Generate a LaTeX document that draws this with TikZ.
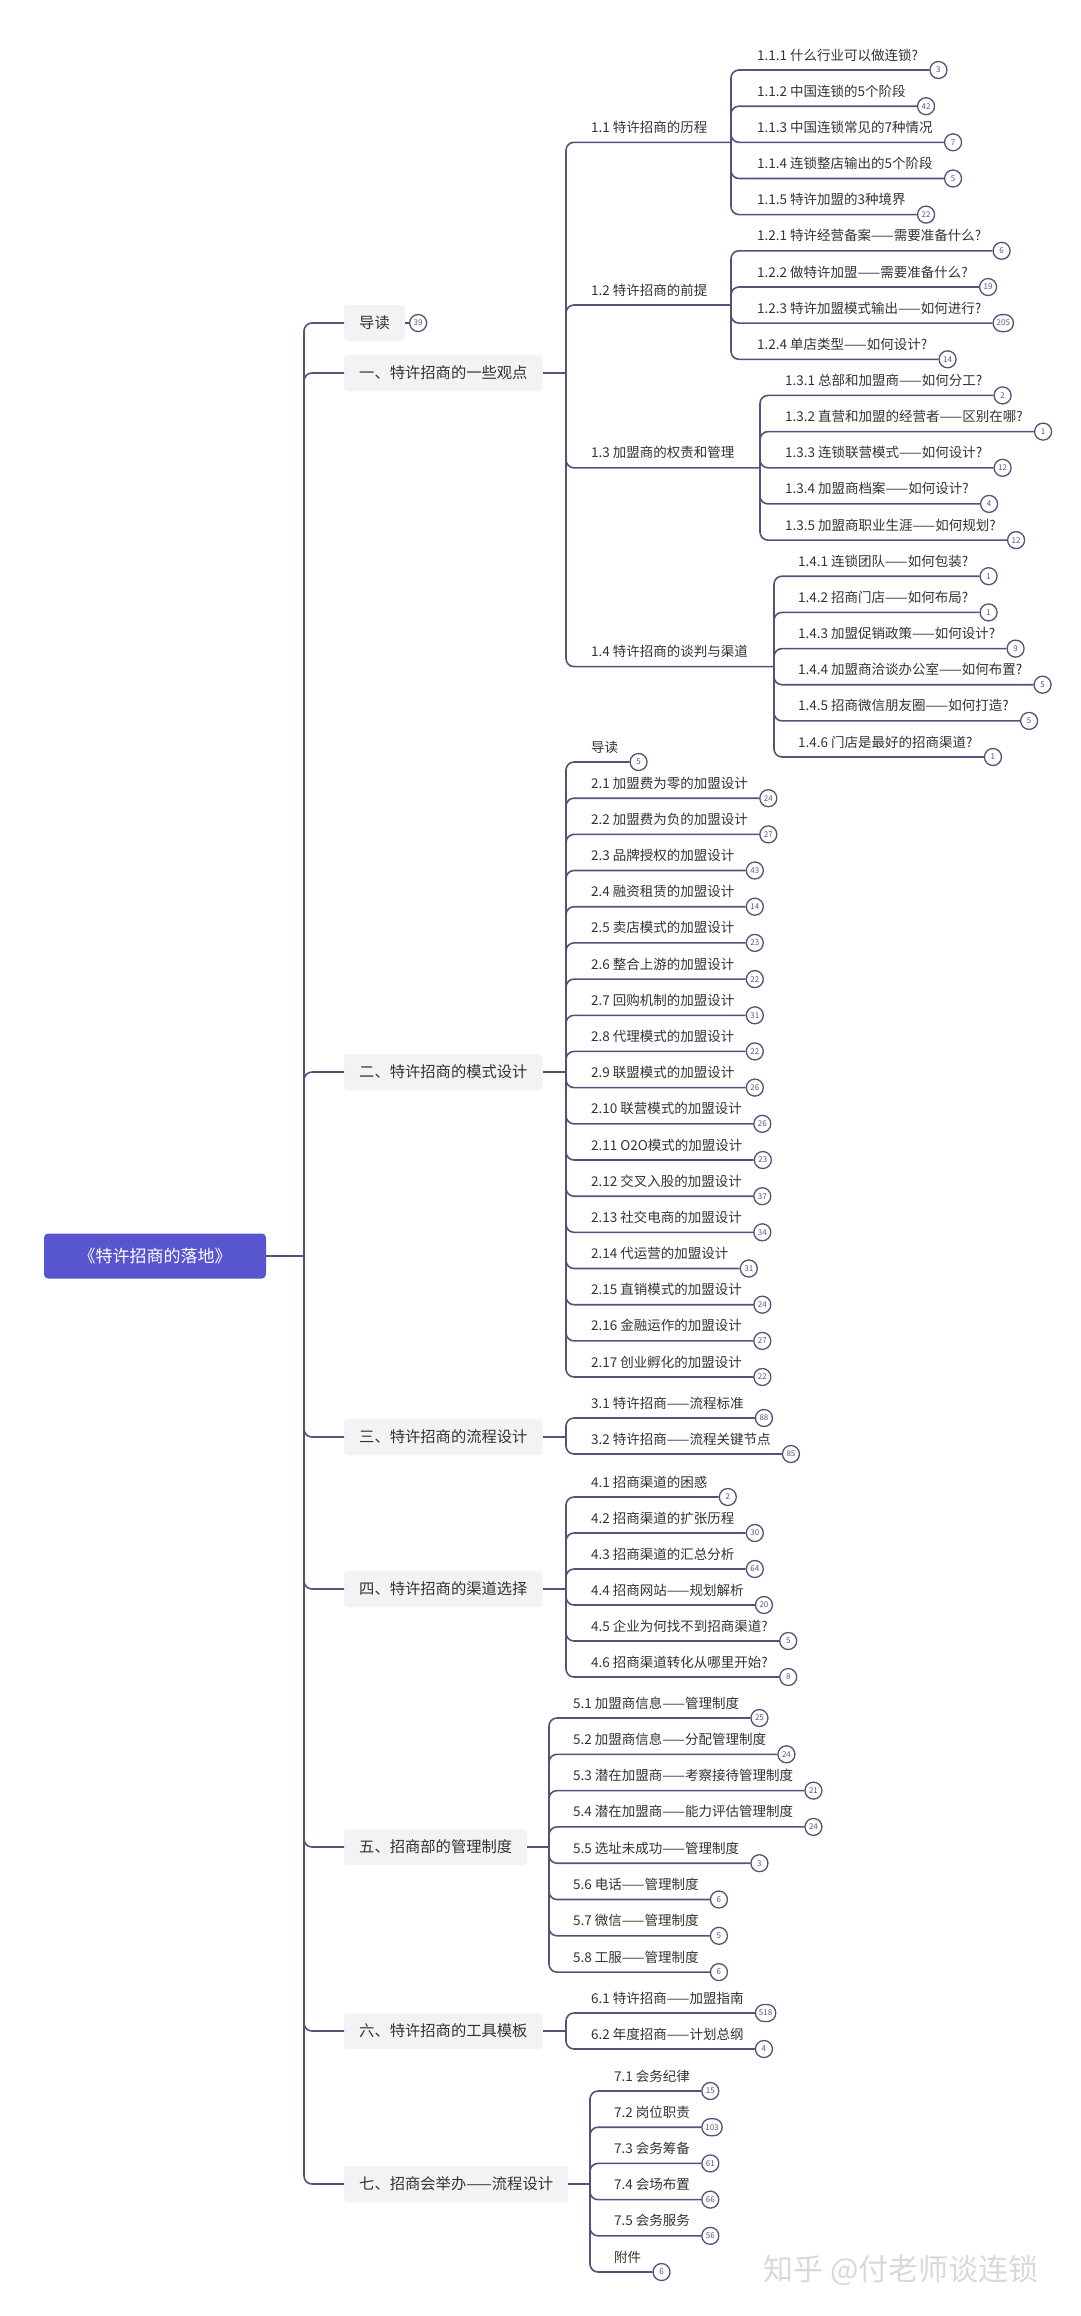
\documentclass[tikz,border=0pt]{standalone}
\usepackage{fontspec}
\newfontfamily\cjk{Noto Sans CJK SC}
\usetikzlibrary{shapes.misc}

\definecolor{linecol}{RGB}{82,82,122}
\definecolor{rootcol}{RGB}{88,86,206}
\definecolor{topiccol}{RGB}{243,243,245}
\definecolor{textcol}{RGB}{51,51,51}
\definecolor{badgecol}{RGB}{90,90,112}

% leaf: number, x, y of its line, text, count
\newcommand\leaf[5]{%
  \node[item] (a#1) at (#2,#3-10) {#4};
  \node[badge, anchor=west] (b#1) at ([shift={(11pt,-10pt)}]a#1.base east) {#5};
}

\begin{document}
\begin{tikzpicture}[x=1pt, y=-1pt,
  conn/.style={draw=linecol, line width=1.6pt, rounded corners=8pt},
  root/.style={fill=rootcol, text=white, rounded corners=4pt, minimum width=222pt, minimum height=45pt, font=\cjk\fontsize{17}{20}\selectfont},
  topic/.style={fill=topiccol, rounded corners=3pt, anchor=west, inner xsep=15pt, minimum height=36pt, text=textcol, font=\cjk\fontsize{15.3}{18}\selectfont},
  item/.style={anchor=base west, inner sep=0pt, text=textcol, font=\cjk\fontsize{13.5}{16}\selectfont},
  badge/.style={rounded rectangle, draw=linecol, line width=1.3pt, fill=white, minimum width=20pt, minimum height=17pt, inner xsep=3pt, inner ysep=0pt, text=badgecol, font=\cjk\fontsize{8}{9}\selectfont}
]
\useasboundingbox[fill=white] (0,0) rectangle (1080,2316);

\node[root] (root) at (155,1256) {《特许招商的落地》};
\coordinate (k0) at (304,1256);

\node[topic] (n0) at (344,323) {导读};
\node[topic] (n1) at (344,373) {一、特许招商的一些观点};
\node[topic] (n2) at (344,1072) {二、特许招商的模式设计};
\node[topic] (n3) at (344,1437) {三、特许招商的流程设计};
\node[topic] (n4) at (344,1589) {四、特许招商的渠道选择};
\node[topic] (n5) at (344,1847) {五、招商部的管理制度};
\node[topic] (n6) at (344,2031) {六、特许招商的工具模板};
\node[topic] (n7) at (344,2184) {七、招商会举办——流程设计};
\node[badge, anchor=west] (b0) at ([xshift=4pt]n0.east) {39};

\draw[conn] (root) -- (k0);
\foreach \i in {0,...,7} \draw[conn] (k0) |- (n\i.west);
\draw[conn] (n0) -- (b0);

% one
\coordinate (k1) at (566,373);
\node[item] (t11) at (591,132.3) {1.1 特许招商的历程};
\node[item] (t12) at (591,295.0) {1.2 特许招商的前提};
\node[item] (t13) at (591,457.8) {1.3 加盟商的权责和管理};
\node[item] (t14) at (591,656.6) {1.4 特许招商的谈判与渠道};
\coordinate (j11) at (731,142.3);
\coordinate (j12) at (731,305.0);
\coordinate (j13) at (760,467.8);
\coordinate (j14) at (774,666.6);

\leaf{111}{757}{70.0}{1.1.1 什么行业可以做连锁?}{3}
\leaf{112}{757}{106.2}{1.1.2 中国连锁的5个阶段}{42}
\leaf{113}{757}{142.3}{1.1.3 中国连锁常见的7种情况}{7}
\leaf{114}{757}{178.5}{1.1.4 连锁整店输出的5个阶段}{5}
\leaf{115}{757}{214.6}{1.1.5 特许加盟的3种境界}{22}
\leaf{121}{757}{250.8}{1.2.1 特许经营备案——需要准备什么?}{6}
\leaf{122}{757}{287.0}{1.2.2 做特许加盟——需要准备什么?}{19}
\leaf{123}{757}{323.1}{1.2.3 特许加盟模式输出——如何进行?}{205}
\leaf{124}{757}{359.3}{1.2.4 单店类型——如何设计?}{14}
\leaf{131}{785}{395.4}{1.3.1 总部和加盟商——如何分工?}{2}
\leaf{132}{785}{431.6}{1.3.2 直营和加盟的经营者——区别在哪?}{1}
\leaf{133}{785}{467.8}{1.3.3 连锁联营模式——如何设计?}{12}
\leaf{134}{785}{503.9}{1.3.4 加盟商档案——如何设计?}{4}
\leaf{135}{785}{540.1}{1.3.5 加盟商职业生涯——如何规划?}{12}
\leaf{141}{798}{576.2}{1.4.1 连锁团队——如何包装?}{1}
\leaf{142}{798}{612.4}{1.4.2 招商门店——如何布局?}{1}
\leaf{143}{798}{648.6}{1.4.3 加盟促销政策——如何设计?}{9}
\leaf{144}{798}{684.7}{1.4.4 加盟商洽谈办公室——如何布置?}{5}
\leaf{145}{798}{720.9}{1.4.5 招商微信朋友圈——如何打造?}{5}
\leaf{146}{798}{757.0}{1.4.6 门店是最好的招商渠道?}{1}

\draw[conn] (n1) -- (k1);
\foreach \j in {11,12,13,14} \draw[conn] (k1) |- (j\j);
\foreach \i in {111,...,115} \draw[conn] (j11) |- (b\i.west);
\foreach \i in {121,...,124} \draw[conn] (j12) |- (b\i.west);
\foreach \i in {131,...,135} \draw[conn] (j13) |- (b\i.west);
\foreach \i in {141,...,146} \draw[conn] (j14) |- (b\i.west);

% two
\coordinate (k2) at (566,1072);
\leaf{20}{591}{762.0}{导读}{5}
\leaf{21}{591}{798.2}{2.1 加盟费为零的加盟设计}{24}
\leaf{22}{591}{834.4}{2.2 加盟费为负的加盟设计}{27}
\leaf{23}{591}{870.5}{2.3 品牌授权的加盟设计}{43}
\leaf{24}{591}{906.7}{2.4 融资租赁的加盟设计}{14}
\leaf{25}{591}{942.9}{2.5 卖店模式的加盟设计}{23}
\leaf{26}{591}{979.1}{2.6 整合上游的加盟设计}{22}
\leaf{27}{591}{1015.3}{2.7 回购机制的加盟设计}{31}
\leaf{28}{591}{1051.4}{2.8 代理模式的加盟设计}{22}
\leaf{29}{591}{1087.6}{2.9 联盟模式的加盟设计}{26}
\leaf{210}{591}{1123.8}{2.10 联营模式的加盟设计}{26}
\leaf{211}{591}{1160.0}{2.11 O2O模式的加盟设计}{23}
\leaf{212}{591}{1196.2}{2.12 交叉入股的加盟设计}{37}
\leaf{213}{591}{1232.3}{2.13 社交电商的加盟设计}{34}
\leaf{214}{591}{1268.5}{2.14 代运营的加盟设计}{31}
\leaf{215}{591}{1304.7}{2.15 直销模式的加盟设计}{24}
\leaf{216}{591}{1340.9}{2.16 金融运作的加盟设计}{27}
\leaf{217}{591}{1377.0}{2.17 创业孵化的加盟设计}{22}

\draw[conn] (n2) -- (k2);
\foreach \i in {20,21,22,23,24,25,26,27,28,29,210,211,212,213,214,215,216,217}
  \draw[conn] (k2) |- (b\i.west);

% three
\coordinate (k3) at (566,1437);
\leaf{31}{591}{1418}{3.1 特许招商——流程标准}{88}
\leaf{32}{591}{1454}{3.2 特许招商——流程关键节点}{85}
\draw[conn] (n3) -- (k3);
\foreach \i in {31,32} \draw[conn] (k3) |- (b\i.west);

% four
\coordinate (k4) at (566,1589);
\leaf{41}{591}{1497}{4.1 招商渠道的困惑}{2}
\leaf{42}{591}{1533}{4.2 招商渠道的扩张历程}{30}
\leaf{43}{591}{1569}{4.3 招商渠道的汇总分析}{64}
\leaf{44}{591}{1605}{4.4 招商网站——规划解析}{20}
\leaf{45}{591}{1641}{4.5 企业为何找不到招商渠道?}{5}
\leaf{46}{591}{1677}{4.6 招商渠道转化从哪里开始?}{8}
\draw[conn] (n4) -- (k4);
\foreach \i in {41,...,46} \draw[conn] (k4) |- (b\i.west);

% five
\coordinate (k5) at (549,1847);
\leaf{51}{573}{1718.0}{5.1 加盟商信息——管理制度}{25}
\leaf{52}{573}{1754.3}{5.2 加盟商信息——分配管理制度}{24}
\leaf{53}{573}{1790.6}{5.3 潜在加盟商——考察接待管理制度}{21}
\leaf{54}{573}{1826.9}{5.4 潜在加盟商——能力评估管理制度}{24}
\leaf{55}{573}{1863.2}{5.5 选址未成功——管理制度}{3}
\leaf{56}{573}{1899.5}{5.6 电话——管理制度}{6}
\leaf{57}{573}{1935.8}{5.7 微信——管理制度}{5}
\leaf{58}{573}{1972.1}{5.8 工服——管理制度}{6}
\draw[conn] (n5) -- (k5);
\foreach \i in {51,...,58} \draw[conn] (k5) |- (b\i.west);

% six
\coordinate (k6) at (566,2031);
\leaf{61}{591}{2013}{6.1 特许招商——加盟指南}{518}
\leaf{62}{591}{2049}{6.2 年度招商——计划总纲}{4}
\draw[conn] (n6) -- (k6);
\foreach \i in {61,62} \draw[conn] (k6) |- (b\i.west);

% seven
\coordinate (k7) at (590,2184);
\leaf{71}{614}{2091.0}{7.1 会务纪律}{15}
\leaf{72}{614}{2127.2}{7.2 岗位职责}{103}
\leaf{73}{614}{2163.4}{7.3 会务筹备}{61}
\leaf{74}{614}{2199.6}{7.4 会场布置}{66}
\leaf{75}{614}{2235.8}{7.5 会务服务}{56}
\leaf{76}{614}{2272.0}{附件}{6}
\draw[conn] (n7) -- (k7);
\foreach \i in {71,...,76} \draw[conn] (k7) |- (b\i.west);

\node[anchor=west, text=gray!30, font=\cjk\fontsize{30}{32}\selectfont] (mark) at (760,2270) {知乎 @付老师谈连锁};
\end{tikzpicture}
\end{document}
